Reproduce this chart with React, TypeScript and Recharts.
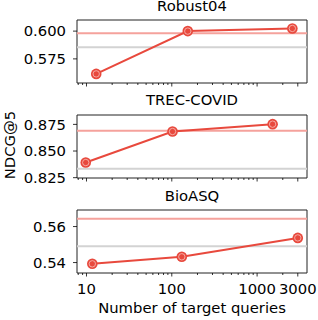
import React from 'react';
import { LineChart, Line, XAxis, YAxis, ReferenceLine, ReferenceArea } from 'recharts';

// values
const robustQueries = [13, 154, 2590];
const robustNdcg = [0.5615, 0.6, 0.6024];
const robustTarget = 0.598;
const robustSource = 0.5854;

const covidQueries = [9.8, 102, 1520];
const covidNdcg = [0.8392, 0.8683, 0.8752];
const covidTarget = 0.869;
const covidSource = 0.8333;

const bioQueries = [11.7, 131, 3000];
const bioNdcg = [0.5393, 0.5432, 0.5537];
const bioTarget = 0.5643;
const bioSource = 0.5491;

const xMajor = [10, 100, 1000, 3000];
const xMinor = [8, 9, 20, 30, 40, 50, 60, 70, 80, 90, 200, 300, 400, 500, 600, 700, 800, 900, 2000];
const xTicks = [...xMajor, ...xMinor].sort((a, b) => a - b);
const xDomain = [7.74, 3846];

const RED = '#e8493d';
const PINK = '#f5a29c';
const GREY = '#d3d3d3';
const FONT = 'DejaVu Sans, sans-serif';
const FS = 14.8;

const Marker = (props: any) => {
    const { cx, cy } = props;
    if (cx == null || cy == null) return null;
    return (
        <g>
            <circle cx={cx} cy={cy} r={5.3} fill={RED} />
            <circle cx={cx} cy={cy} r={3.2} fill="none" stroke="#f7c0bb" strokeWidth={0.8} />
        </g>
    );
};

const XTick = (props: any) => {
    const { x, y, payload, showLabel } = props;
    const v = payload.value;
    const major = xMajor.includes(v);
    return (
        <g>
            <line x1={x} x2={x} y1={y} y2={y + (major ? 3.5 : 2)} stroke="#000" strokeWidth={0.8} />
            {showLabel && major && (
                <text x={x} y={y + 21} textAnchor="middle" fontSize={FS} fontFamily={FONT} fill="#000">
                    {v}
                </text>
            )}
        </g>
    );
};

type PanelProps = {
    xs: number[];
    ys: number[];
    target: number;
    source: number;
    yDomain: number[];
    yTicks: number[];
    digits: number;
    top: number;
    xHeight: number;
    showX: boolean;
};

const Panel: React.FC<PanelProps> = ({ xs, ys, target, source, yDomain, yTicks, digits, top, xHeight, showX }) => {
    const data = xs.map((x, i) => ({ x, y: ys[i] }));
    const plotH = 63;
    return (
        <div style={{ position: 'absolute', left: 0, top: top - 10 }}>
            <LineChart width={318} height={10 + plotH + xHeight} data={data} margin={{ top: 10, right: 11, left: 0, bottom: 0 }}>
                <XAxis
                    dataKey="x"
                    type="number"
                    scale="log"
                    domain={xDomain}
                    allowDataOverflow
                    ticks={xTicks}
                    interval={0}
                    height={xHeight}
                    axisLine={false}
                    tickLine={false}
                    tickSize={0}
                    tickMargin={0}
                    tick={<XTick showLabel={showX} />}
                />
                <YAxis
                    type="number"
                    domain={yDomain}
                    allowDataOverflow
                    ticks={yTicks}
                    interval={0}
                    width={77}
                    axisLine={false}
                    tickSize={4}
                    tickMargin={7}
                    tickLine={{ stroke: '#000', strokeWidth: 0.8 }}
                    tickFormatter={(v: number) => v.toFixed(digits)}
                    tick={{ fontSize: FS, fontFamily: FONT, fill: '#000' }}
                />
                <ReferenceLine y={source} stroke={GREY} strokeWidth={2} />
                <ReferenceLine y={target} stroke={PINK} strokeWidth={2} />
                <Line
                    dataKey="y"
                    stroke={RED}
                    strokeWidth={2}
                    dot={<Marker />}
                    activeDot={false}
                    isAnimationActive={false}
                />
                <ReferenceArea
                    x1={xDomain[0]}
                    x2={xDomain[1]}
                    y1={yDomain[0]}
                    y2={yDomain[1]}
                    fill="none"
                    stroke="#222"
                    strokeWidth={1}
                    ifOverflow="visible"
                />
            </LineChart>
        </div>
    );
};

export default function App() {
    return (
        <div style={{ position: 'absolute', left: 0, top: 0, width: 318, height: 320, background: '#fff', fontFamily: FONT }}>
            <Panel xs={robustQueries} ys={robustNdcg} target={robustTarget} source={robustSource}
                yDomain={[0.5533, 0.61]} yTicks={[0.575, 0.6]} digits={3} top={20} xHeight={12} showX={false} />
            <Panel xs={covidQueries} ys={covidNdcg} target={covidTarget} source={covidSource}
                yDomain={[0.8247, 0.8838]} yTicks={[0.825, 0.85, 0.875]} digits={3} top={115} xHeight={12} showX={false} />
            <Panel xs={bioQueries} ys={bioNdcg} target={bioTarget} source={bioSource}
                yDomain={[0.5342, 0.5692]} yTicks={[0.54, 0.56]} digits={2} top={210} xHeight={40} showX />
            <svg width={318} height={320} style={{ position: 'absolute', left: 0, top: 0, pointerEvents: 'none' }}>
                <g fontFamily={FONT} fontSize={FS} fill="#000" textAnchor="middle">
                    <text x={192} y={10.5}>Robust04</text>
                    <text x={192} y={105}>TREC-COVID</text>
                    <text x={192} y={200.5}>BioASQ</text>
                    <text x={192} y={313}>Number of target queries</text>
                    <text x={15} y={145} transform="rotate(-90 15 145)">NDCG@5</text>
                </g>
            </svg>
        </div>
    );
}
